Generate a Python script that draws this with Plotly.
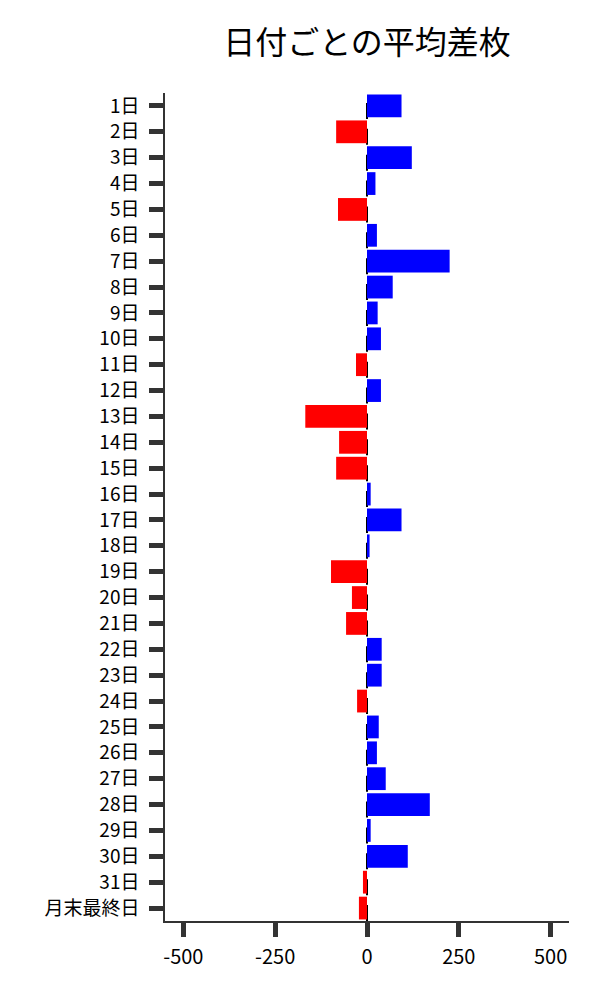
import plotly.graph_objects as go

categories = [f"{d}日" for d in range(1, 32)] + ["月末最終日"]
values = [94, -84, 122, 23, -79, 27, 225, 70, 29, 38, -30, 38, -168, -76, -84, 10,
          94, 7, -98, -41, -57, 40, 40, -27, 32, 27, 51, 171, 10, 111, -11, -22]
x_ticks = [-500, -250, 0, 250, 500]
title_text = "日付ごとの平均差枚"

colors = ["#0000FF" if v >= 0 else "#FF0000" for v in values]
FONT = "Noto Sans CJK JP"

fig = go.Figure(go.Bar(
    x=values, y=categories, orientation="h",
    marker=dict(color=colors, line=dict(width=0)),
    width=0.88,
))

n = len(categories)
fig.add_shape(type="line", xref="x", yref="paper", x0=0, x1=0, y0=0, y1=1,
              line=dict(color="black", width=2, dash="16px,9.875px"), layer="below")

fig.update_layout(
    width=600, height=1000,
    margin=dict(l=165, r=31, t=93, b=79),
    paper_bgcolor="white", plot_bgcolor="white",
    font=dict(family=FONT, size=20, color="black"),
    title=dict(text=title_text, font=dict(family=FONT, size=32, color="black"),
               x=(165 + 569) / 2 / 600, xanchor="center", y=1 - 43 / 1000, yanchor="middle"),
    showlegend=False,
    xaxis=dict(range=[-550, 550], tickvals=x_ticks, ticktext=[str(t) for t in x_ticks],
               showgrid=False, zeroline=False, showline=True, linecolor="#333", linewidth=1.5,
               ticks="outside", ticklen=14, tickwidth=5, tickcolor="#333",
               ticklabelstandoff=3, tickfont=dict(family=FONT, size=20, color="black")),
    yaxis=dict(type="category", categoryorder="array", categoryarray=categories,
               range=[n - 0.5, -0.5], showgrid=False, zeroline=False,
               showline=True, linecolor="#333", linewidth=1.5,
               ticks="outside", ticklen=14, tickwidth=5, tickcolor="#333",
               ticklabelstandoff=6, tickfont=dict(family=FONT, size=19, color="black")),
)

fig.write_html("out.html", config={"displayModeBar": False},
               post_script="document.body.style.margin='0';document.body.style.overflow='hidden';")
